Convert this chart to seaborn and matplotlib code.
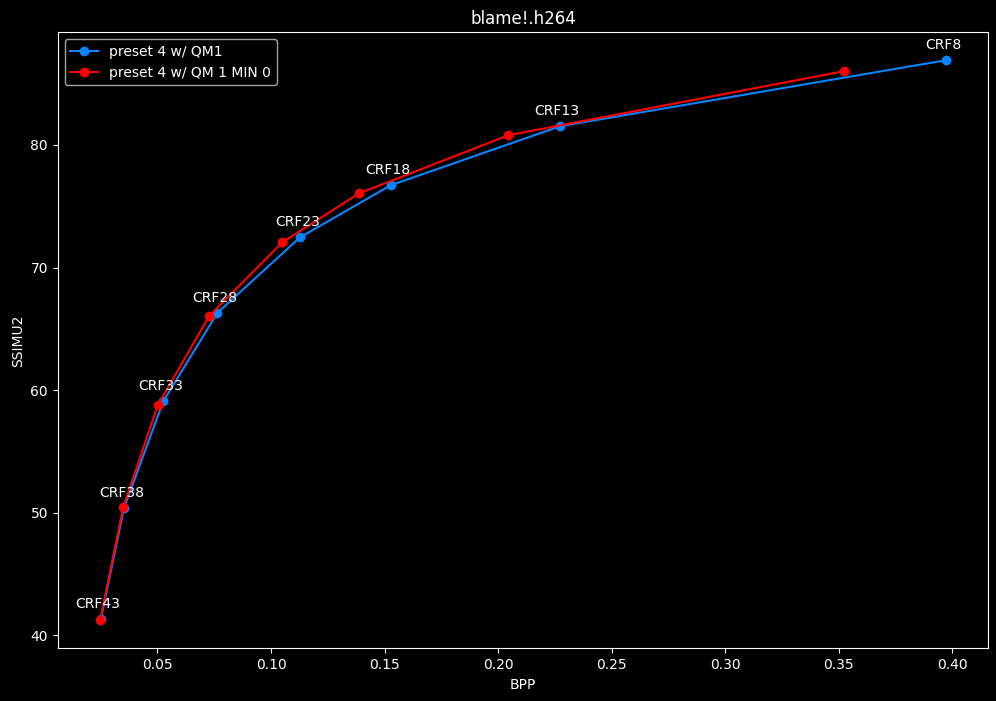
import pandas as pd
import seaborn as sns
import matplotlib.pyplot as plt

# values
crf_labels = ["CRF43", "CRF38", "CRF33", "CRF28", "CRF23", "CRF18", "CRF13", "CRF8"]

qm1_bpp = [0.0251, 0.0353, 0.0525, 0.0764, 0.1128, 0.1527, 0.2273, 0.3972]
qm1_ssim = [41.36, 50.42, 59.08, 66.31, 72.47, 76.71, 81.53, 86.91]

qm1min0_bpp = [0.0247, 0.0349, 0.0501, 0.0727, 0.1049, 0.1388, 0.2044, 0.3523]
qm1min0_ssim = [41.22, 50.47, 58.78, 66.04, 72.06, 76.06, 80.79, 86.02]

series_names = ["preset 4 w/ QM1", "preset 4 w/ QM 1 MIN 0"]
series_colors = ["#0a84ff", "#ff0000"]

plt.style.use("dark_background")
fig, ax = plt.subplots(figsize=(9.96, 7.01), dpi=100)

for name, color, bpp, ssim in [
    (series_names[0], series_colors[0], qm1_bpp, qm1_ssim),
    (series_names[1], series_colors[1], qm1min0_bpp, qm1min0_ssim),
]:
    df = pd.DataFrame({"BPP": bpp, "SSIMU2": ssim})
    sns.lineplot(data=df, x="BPP", y="SSIMU2", ax=ax, color=color, marker="o",
                 markersize=6, markeredgecolor=color, markeredgewidth=1,
                 linewidth=1.5, sort=False, label=name)

# CRF labels sit above the first series
for lab, x, y in zip(crf_labels, qm1_bpp, qm1_ssim):
    ax.annotate(lab, (x, y), textcoords="offset points", xytext=(-2, 8),
                ha="center", color="white", fontsize=10)

ax.set_title("blame!.h264", fontsize=12)
ax.set_xlabel("BPP")
ax.set_ylabel("SSIMU2")
ax.legend(loc="upper left")

fig.subplots_adjust(left=0.058, right=0.992, top=0.954, bottom=0.075)
fig.savefig("out.png", dpi=100)
